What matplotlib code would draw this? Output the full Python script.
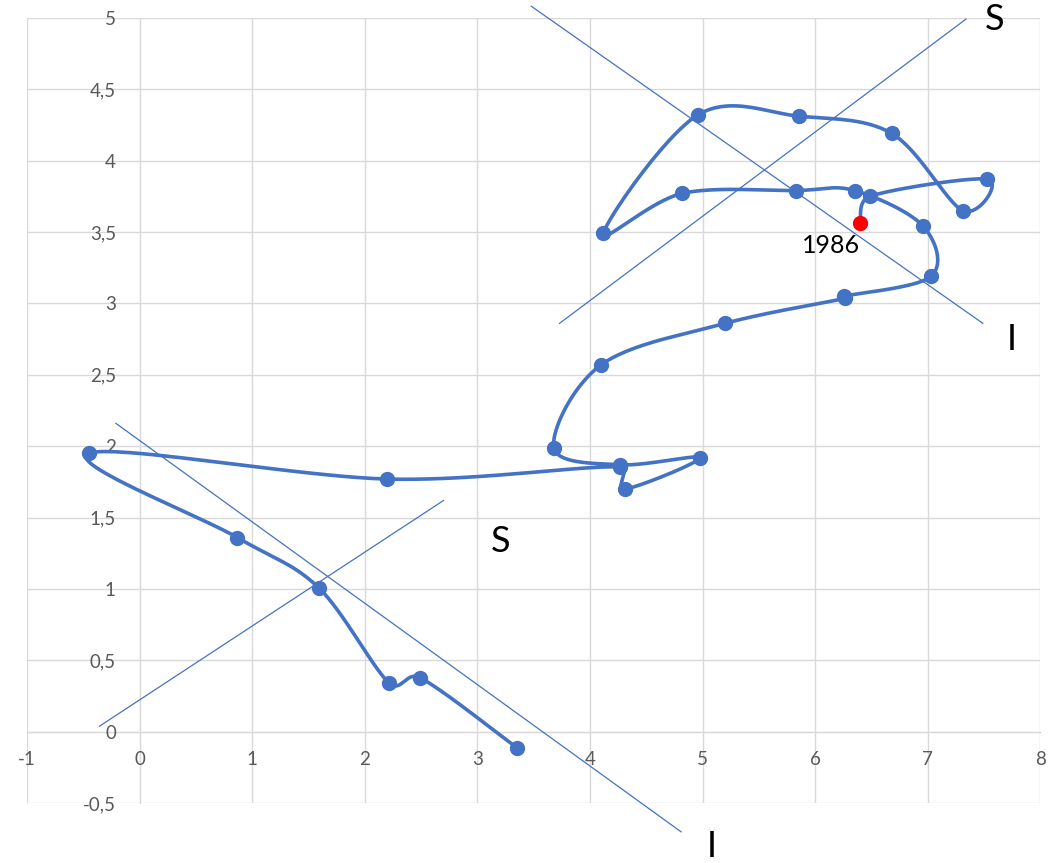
import numpy as np
import matplotlib.pyplot as plt
from matplotlib.ticker import FuncFormatter, MultipleLocator

# trajectory, in year order (first point is 1986)
xs = [6.40, 6.49, 7.53, 7.31, 6.68, 5.86, 4.96, 4.12, 4.82, 5.83,
      6.35, 6.96, 7.03, 6.26, 6.265, 5.20, 4.10, 3.68, 4.265, 4.98,
      4.31, 4.27, 2.20, -0.45, 0.87, 1.59, 2.22, 2.49, 3.35]
ys = [3.56, 3.75, 3.87, 3.65, 4.19, 4.31, 4.32, 3.49, 3.77, 3.79,
      3.79, 3.54, 3.19, 3.05, 3.035, 2.86, 2.57, 1.99, 1.87, 1.92,
      1.70, 1.855, 1.77, 1.95, 1.36, 1.01, 0.34, 0.38, -0.11]
first_label = '1986'

# hand-drawn guide lines (x0, y0, x1, y1) and their letters
guide_lines = [(3.48, 5.08, 7.49, 2.86),   # upper I
               (3.73, 2.86, 7.34, 4.99),   # upper S
               (-0.21, 2.16, 4.81, -0.70),  # lower I
               (-0.355, 0.04, 2.70, 1.62)]  # lower S
guide_text = ['I', 'S', 'I', 'S']
guide_text_x = [7.75, 7.59, 5.08, 3.21]
guide_text_y = [2.75, 4.99, -0.80, 1.33]

blue = '#4472C4'
grid_col = '#d9d9d9'
txt_col = '#595959'

# pixels per unit on each axis, smoothing is done in screen-like space
sx_px, sy_px = 112.6, 142.7


def smooth(px, py, n=40):
    # excel-like smoothed line: catmull-rom bezier, handles capped on short segments
    p = np.column_stack([np.asarray(px) * sx_px, np.asarray(py) * sy_px])
    p = np.vstack([p[0], p, p[-1]])
    out = []
    t = np.linspace(0, 1, n)[:, None]
    for i in range(1, len(p) - 2):
        p0, p1, p2, p3 = p[i - 1], p[i], p[i + 1], p[i + 2]
        L = np.linalg.norm(p2 - p1)
        h1 = (p2 - p0) / 6
        h2 = (p3 - p1) / 6
        for h in (h1, h2):
            m = np.linalg.norm(h)
            if m > 0.5 * L:
                h *= 0.5 * L / m
        c1 = p1 + h1
        c2 = p2 - h2
        seg = ((1 - t) ** 3) * p1 + 3 * ((1 - t) ** 2) * t * c1 + 3 * (1 - t) * t ** 2 * c2 + t ** 3 * p2
        out.append(seg)
    out = np.vstack(out)
    return out[:, 0] / sx_px, out[:, 1] / sy_px


plt.rcParams['font.family'] = ['Lato', 'DejaVu Sans']

fig = plt.figure(figsize=(10.58, 8.63), dpi=100)
ax = fig.add_axes([0.02543, 0.06918, 0.95784, 0.91031])
ax.set_xlim(-1, 8)
ax.set_ylim(-0.5, 5)
ax.xaxis.set_major_locator(MultipleLocator(1))
ax.yaxis.set_major_locator(MultipleLocator(0.5))
fmt = FuncFormatter(lambda v, pos: f'{v:g}'.replace('.', ','))
ax.xaxis.set_major_formatter(fmt)
ax.yaxis.set_major_formatter(fmt)

ax.grid(True, color=grid_col, lw=1.0, zorder=0)
ax.set_axisbelow(True)
for s in ['top', 'right']:
    ax.spines[s].set_visible(False)
ax.spines['left'].set_position(('data', 0))
ax.spines['bottom'].set_position(('data', 0))
ax.spines['left'].set_color(grid_col)
ax.spines['bottom'].set_color('#bfbfbf')
ax.spines['left'].set_zorder(0.5)
ax.spines['bottom'].set_zorder(0.5)
ax.tick_params(axis='both', length=0, labelsize=13.5, labelcolor=txt_col)
ax.tick_params(axis='y', pad=17)
ax.tick_params(axis='x', pad=14)

# guide lines
for (x0, y0, x1, y1), lab, tx, ty in zip(guide_lines, guide_text, guide_text_x, guide_text_y):
    ax.plot([x0, x1], [y0, y1], color=blue, lw=0.9, clip_on=False, zorder=2)
    ax.text(tx, ty, lab, fontsize=26, ha='center', va='center', color='black', clip_on=False)

# series
sx, sy = smooth(xs, ys)
ax.plot(sx, sy, color=blue, lw=2.6, solid_capstyle='round', zorder=3)
ax.plot(xs[1:], ys[1:], 'o', color=blue, ms=10, zorder=4)
ax.plot(xs[0], ys[0], 'o', color='red', ms=10, zorder=5)
ax.annotate(first_label, (xs[0], ys[0]), xytext=(-21, -16), textcoords='offset points',
            ha='center', va='center', fontsize=18, color='black')

fig.savefig('out.png', dpi=100)
